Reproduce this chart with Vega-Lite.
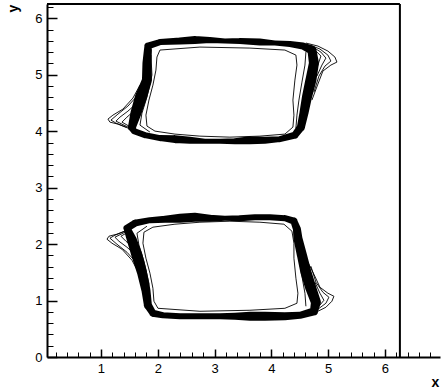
{
  "$schema": "https://vega.github.io/schema/vega-lite/v6.json",
  "width": 393,
  "height": 353,
  "autosize": "none",
  "padding": {"left": 47, "top": 4, "right": 3, "bottom": 34},
  "background": "white",
  "config": {
    "view": {"stroke": null},
    "axis": {
      "domainColor": "black", "domainWidth": 2, "tickColor": "black", "tickWidth": 1.5,
      "labelFont": "Liberation Sans", "labelFontSize": 13, "labelColor": "black",
      "grid": false, "titleFont": "Liberation Sans", "titleColor": "black"
    }
  },
  "datasets": {
    "bands": [
      {"g":"T","x":1.827,"y":5.509,"w":7},{"g":"T","x":2.039,"y":5.580,"w":6},{"g":"T","x":2.391,"y":5.598,"w":7},
      {"g":"T","x":2.655,"y":5.615,"w":8},{"g":"T","x":2.919,"y":5.615,"w":6},{"g":"T","x":3.183,"y":5.598,"w":5},
      {"g":"T","x":3.447,"y":5.598,"w":6},{"g":"T","x":3.799,"y":5.580,"w":7},{"g":"T","x":4.063,"y":5.562,"w":5},
      {"g":"T","x":4.327,"y":5.544,"w":6},{"g":"T","x":4.556,"y":5.509,"w":7},{"g":"T","x":4.715,"y":5.438,"w":9},
      {"g":"T","x":4.750,"y":5.207,"w":10},{"g":"T","x":4.697,"y":4.906,"w":11},{"g":"T","x":4.627,"y":4.605,"w":10},
      {"g":"T","x":4.574,"y":4.321,"w":9},{"g":"T","x":4.521,"y":4.073,"w":8},{"g":"T","x":4.415,"y":3.931,"w":7},
      {"g":"T","x":4.151,"y":3.860,"w":6},{"g":"T","x":3.887,"y":3.842,"w":7},{"g":"T","x":3.623,"y":3.842,"w":8},
      {"g":"T","x":3.359,"y":3.824,"w":6},{"g":"T","x":3.095,"y":3.824,"w":5},{"g":"T","x":2.831,"y":3.824,"w":5},
      {"g":"T","x":2.567,"y":3.842,"w":7},{"g":"T","x":2.303,"y":3.860,"w":8},{"g":"T","x":2.039,"y":3.878,"w":6},
      {"g":"T","x":1.775,"y":3.931,"w":6},{"g":"T","x":1.581,"y":4.002,"w":6},{"g":"T","x":1.546,"y":4.073,"w":8},
      {"g":"T","x":1.616,"y":4.321,"w":11},{"g":"T","x":1.704,"y":4.605,"w":12},{"g":"T","x":1.810,"y":4.906,"w":10},
      {"g":"T","x":1.810,"y":5.207,"w":9},{"g":"T","x":1.827,"y":5.438,"w":8},{"g":"T","x":1.827,"y":5.509,"w":7},
      {"g":"B","x":1.458,"y":2.282,"w":7},{"g":"B","x":1.599,"y":2.371,"w":7},{"g":"B","x":1.863,"y":2.424,"w":6},
      {"g":"B","x":2.127,"y":2.441,"w":7},{"g":"B","x":2.391,"y":2.459,"w":9},{"g":"B","x":2.655,"y":2.477,"w":9},
      {"g":"B","x":2.919,"y":2.459,"w":7},{"g":"B","x":3.183,"y":2.459,"w":5},{"g":"B","x":3.447,"y":2.459,"w":6},
      {"g":"B","x":3.711,"y":2.477,"w":6},{"g":"B","x":3.975,"y":2.477,"w":6},{"g":"B","x":4.239,"y":2.459,"w":6},
      {"g":"B","x":4.398,"y":2.406,"w":7},{"g":"B","x":4.451,"y":2.264,"w":8},{"g":"B","x":4.468,"y":2.105,"w":9},
      {"g":"B","x":4.539,"y":1.803,"w":10},{"g":"B","x":4.609,"y":1.502,"w":11},{"g":"B","x":4.697,"y":1.218,"w":11},
      {"g":"B","x":4.785,"y":0.970,"w":10},{"g":"B","x":4.750,"y":0.810,"w":8},{"g":"B","x":4.504,"y":0.739,"w":7},
      {"g":"B","x":4.239,"y":0.722,"w":8},{"g":"B","x":3.887,"y":0.722,"w":9},{"g":"B","x":3.623,"y":0.722,"w":9},
      {"g":"B","x":3.359,"y":0.722,"w":7},{"g":"B","x":3.095,"y":0.722,"w":6},{"g":"B","x":2.743,"y":0.722,"w":6},
      {"g":"B","x":2.391,"y":0.722,"w":6},{"g":"B","x":2.092,"y":0.739,"w":6},{"g":"B","x":1.915,"y":0.775,"w":7},
      {"g":"B","x":1.827,"y":0.917,"w":8},{"g":"B","x":1.792,"y":1.183,"w":9},{"g":"B","x":1.722,"y":1.502,"w":10},
      {"g":"B","x":1.634,"y":1.803,"w":11},{"g":"B","x":1.546,"y":2.069,"w":10},{"g":"B","x":1.458,"y":2.282,"w":7}
    ],
    "lines": [
      {"g":"TI","x":2.039,"y":5.438},{"g":"TI","x":2.743,"y":5.491},{"g":"TI","x":3.623,"y":5.473},{"g":"TI","x":4.239,"y":5.438},
      {"g":"TI","x":4.433,"y":5.349},{"g":"TI","x":4.451,"y":5.172},{"g":"TI","x":4.415,"y":4.906},{"g":"TI","x":4.380,"y":4.552},
      {"g":"TI","x":4.398,"y":4.285},{"g":"TI","x":4.380,"y":4.073},{"g":"TI","x":4.239,"y":3.949},{"g":"TI","x":3.799,"y":3.913},
      {"g":"TI","x":3.271,"y":3.895},{"g":"TI","x":2.743,"y":3.913},{"g":"TI","x":2.303,"y":3.949},{"g":"TI","x":1.951,"y":4.002},
      {"g":"TI","x":1.810,"y":4.091},{"g":"TI","x":1.792,"y":4.285},{"g":"TI","x":1.845,"y":4.552},{"g":"TI","x":1.915,"y":4.817},
      {"g":"TI","x":1.968,"y":5.083},{"g":"TI","x":1.986,"y":5.314},{"g":"TI","x":2.039,"y":5.438},
      {"g":"BI","x":2.004,"y":0.863},{"g":"BI","x":2.743,"y":0.810},{"g":"BI","x":3.623,"y":0.828},{"g":"BI","x":4.239,"y":0.863},
      {"g":"BI","x":4.451,"y":0.952},{"g":"BI","x":4.468,"y":1.130},{"g":"BI","x":4.433,"y":1.396},{"g":"BI","x":4.398,"y":1.750},
      {"g":"BI","x":4.398,"y":2.016},{"g":"BI","x":4.363,"y":2.229},{"g":"BI","x":4.222,"y":2.353},{"g":"BI","x":3.799,"y":2.388},
      {"g":"BI","x":3.271,"y":2.406},{"g":"BI","x":2.743,"y":2.388},{"g":"BI","x":2.303,"y":2.353},{"g":"BI","x":1.915,"y":2.300},
      {"g":"BI","x":1.757,"y":2.211},{"g":"BI","x":1.739,"y":2.016},{"g":"BI","x":1.792,"y":1.750},{"g":"BI","x":1.863,"y":1.484},
      {"g":"BI","x":1.915,"y":1.218},{"g":"BI","x":1.933,"y":0.988},{"g":"BI","x":2.004,"y":0.863},
      {"g":"TLH","x":1.880,"y":5.349},{"g":"TLH","x":1.898,"y":4.995},{"g":"TLH","x":1.810,"y":4.605},{"g":"TLH","x":1.722,"y":4.321},{"g":"TLH","x":1.687,"y":4.108},{"g":"TLH","x":1.863,"y":3.984},
      {"g":"TRH","x":4.609,"y":5.402},{"g":"TRH","x":4.592,"y":5.172},{"g":"TRH","x":4.539,"y":4.870},{"g":"TRH","x":4.486,"y":4.552},{"g":"TRH","x":4.451,"y":4.285},{"g":"TRH","x":4.433,"y":4.055},
      {"g":"BLH","x":1.827,"y":0.952},{"g":"BLH","x":1.845,"y":1.307},{"g":"BLH","x":1.757,"y":1.697},{"g":"BLH","x":1.669,"y":1.981},{"g":"BLH","x":1.634,"y":2.193},{"g":"BLH","x":1.810,"y":2.317},
      {"g":"BRH","x":4.609,"y":0.899},{"g":"BRH","x":4.592,"y":1.130},{"g":"BRH","x":4.539,"y":1.431},{"g":"BRH","x":4.486,"y":1.750},{"g":"BRH","x":4.451,"y":2.016},{"g":"BRH","x":4.433,"y":2.246},
      {"g":"TLA","x":1.687,"y":4.817},{"g":"TLA","x":1.563,"y":4.587},{"g":"TLA","x":1.387,"y":4.392},{"g":"TLA","x":1.211,"y":4.285},{"g":"TLA","x":1.123,"y":4.215},{"g":"TLA","x":1.158,"y":4.161},{"g":"TLA","x":1.299,"y":4.126},{"g":"TLA","x":1.475,"y":4.055},
      {"g":"TLB","x":1.651,"y":4.640},{"g":"TLB","x":1.475,"y":4.445},{"g":"TLB","x":1.299,"y":4.303},{"g":"TLB","x":1.176,"y":4.197},{"g":"TLB","x":1.264,"y":4.144},{"g":"TLB","x":1.440,"y":4.073},
      {"g":"TLC","x":1.634,"y":4.498},{"g":"TLC","x":1.475,"y":4.356},{"g":"TLC","x":1.335,"y":4.250},{"g":"TLC","x":1.264,"y":4.179},{"g":"TLC","x":1.405,"y":4.108},{"g":"TLC","x":1.511,"y":4.055},
      {"g":"TLD","x":1.599,"y":4.374},{"g":"TLD","x":1.458,"y":4.250},{"g":"TLD","x":1.370,"y":4.161},{"g":"TLD","x":1.493,"y":4.091},
      {"g":"TRA","x":4.609,"y":5.562},{"g":"TRA","x":4.820,"y":5.509},{"g":"TRA","x":4.996,"y":5.420},{"g":"TRA","x":5.120,"y":5.314},{"g":"TRA","x":5.155,"y":5.225},{"g":"TRA","x":5.049,"y":5.172},{"g":"TRA","x":4.908,"y":5.066},{"g":"TRA","x":4.820,"y":4.835},{"g":"TRA","x":4.715,"y":4.552},
      {"g":"TRB","x":4.680,"y":5.527},{"g":"TRB","x":4.856,"y":5.456},{"g":"TRB","x":4.996,"y":5.349},{"g":"TRB","x":5.049,"y":5.243},{"g":"TRB","x":4.944,"y":5.154},{"g":"TRB","x":4.838,"y":4.977},{"g":"TRB","x":4.750,"y":4.693},
      {"g":"TRC","x":4.732,"y":5.491},{"g":"TRC","x":4.873,"y":5.402},{"g":"TRC","x":4.961,"y":5.296},{"g":"TRC","x":4.891,"y":5.172},{"g":"TRC","x":4.803,"y":4.977},
      {"g":"TRD","x":4.768,"y":5.438},{"g":"TRD","x":4.873,"y":5.332},{"g":"TRD","x":4.820,"y":5.172},{"g":"TRD","x":4.768,"y":5.048},
      {"g":"BLA","x":1.669,"y":1.484},{"g":"BLA","x":1.546,"y":1.715},{"g":"BLA","x":1.370,"y":1.910},{"g":"BLA","x":1.194,"y":2.016},{"g":"BLA","x":1.106,"y":2.087},{"g":"BLA","x":1.141,"y":2.140},{"g":"BLA","x":1.282,"y":2.176},{"g":"BLA","x":1.458,"y":2.246},
      {"g":"BLB","x":1.634,"y":1.661},{"g":"BLB","x":1.458,"y":1.856},{"g":"BLB","x":1.282,"y":1.998},{"g":"BLB","x":1.158,"y":2.105},{"g":"BLB","x":1.246,"y":2.158},{"g":"BLB","x":1.423,"y":2.229},
      {"g":"BLC","x":1.616,"y":1.803},{"g":"BLC","x":1.458,"y":1.945},{"g":"BLC","x":1.317,"y":2.051},{"g":"BLC","x":1.246,"y":2.122},{"g":"BLC","x":1.387,"y":2.193},{"g":"BLC","x":1.493,"y":2.246},
      {"g":"BLD","x":1.581,"y":1.927},{"g":"BLD","x":1.440,"y":2.051},{"g":"BLD","x":1.352,"y":2.140},{"g":"BLD","x":1.475,"y":2.211},
      {"g":"BRA","x":4.609,"y":0.739},{"g":"BRA","x":4.785,"y":0.793},{"g":"BRA","x":4.961,"y":0.881},{"g":"BRA","x":5.067,"y":0.988},{"g":"BRA","x":5.102,"y":1.076},{"g":"BRA","x":4.996,"y":1.130},{"g":"BRA","x":4.856,"y":1.236},{"g":"BRA","x":4.750,"y":1.466},{"g":"BRA","x":4.609,"y":1.750},
      {"g":"BRB","x":4.662,"y":0.775},{"g":"BRB","x":4.820,"y":0.846},{"g":"BRB","x":4.961,"y":0.952},{"g":"BRB","x":5.014,"y":1.059},{"g":"BRB","x":4.908,"y":1.147},{"g":"BRB","x":4.785,"y":1.325},{"g":"BRB","x":4.697,"y":1.608},
      {"g":"BRC","x":4.715,"y":0.810},{"g":"BRC","x":4.838,"y":0.899},{"g":"BRC","x":4.926,"y":1.005},{"g":"BRC","x":4.856,"y":1.130},{"g":"BRC","x":4.768,"y":1.325},
      {"g":"BRD","x":4.750,"y":0.863},{"g":"BRD","x":4.838,"y":0.970},{"g":"BRD","x":4.785,"y":1.130},{"g":"BRD","x":4.732,"y":1.254}
    ]
  },
  "layer": [
    {
      "data": {"name": "bands"},
      "mark": {"type": "trail", "color": "black"},
      "encoding": {
        "x": {"field": "x", "type": "quantitative",
              "scale": {"domain": [0.05, 6.97], "nice": false, "zero": false},
              "axis": {"orient": "bottom", "values": [1, 2, 3, 4, 5, 6], "tickSize": -8, "labelPadding": 13,
                       "title": "x", "titleX": 388, "titleY": 25, "titleAlign": "center", "titleBaseline": "middle",
                       "titleFontSize": 14, "titleFontWeight": "bold"}},
        "y": {"field": "y", "type": "quantitative",
              "scale": {"domain": [0, 6.254], "nice": false, "zero": false},
              "axis": {"orient": "left", "values": [0, 1, 2, 3, 4, 5, 6], "tickSize": -10, "labelPadding": 15,
                       "title": "y", "titleX": -34, "titleY": 4, "titleAlign": "center", "titleBaseline": "middle",
                       "titleFontSize": 14, "titleFontWeight": "bold"}},
        "size": {"field": "w", "type": "quantitative", "scale": null},
        "detail": {"field": "g"},
        "order": {"value": null}
      }
    },
    {
      "data": {"name": "lines"},
      "mark": {"type": "line", "color": "black", "strokeWidth": 0.9},
      "encoding": {
        "x": {"field": "x", "type": "quantitative",
              "axis": {"orient": "bottom", "title": null, "labels": false, "domain": false, "tickSize": -5, "tickWidth": 1,
                       "values": [0.2,0.4,0.6,0.8,1.2,1.4,1.6,1.8,2.2,2.4,2.6,2.8,3.2,3.4,3.6,3.8,4.2,4.4,4.6,4.8,5.2,5.4,5.6,5.8,6.2,6.4,6.6,6.8]}},
        "y": {"field": "y", "type": "quantitative",
              "axis": {"orient": "left", "title": null, "labels": false, "domain": false, "tickSize": -6, "tickWidth": 1,
                       "values": [0.2,0.4,0.6,0.8,1.2,1.4,1.6,1.8,2.2,2.4,2.6,2.8,3.2,3.4,3.6,3.8,4.2,4.4,4.6,4.8,5.2,5.4,5.6,5.8,6.2]}},
        "detail": {"field": "g"},
        "order": {"value": null}
      }
    },
    {
      "data": {"values": [{}]},
      "mark": {"type": "rule", "color": "black", "strokeWidth": 2},
      "encoding": {
        "x": {"datum": 0.05, "type": "quantitative", "axis": null},
        "x2": {"datum": 6.264},
        "y": {"datum": 6.254, "type": "quantitative", "axis": null}
      }
    },
    {
      "data": {"values": [{}]},
      "mark": {"type": "rule", "color": "black", "strokeWidth": 2},
      "encoding": {
        "x": {"datum": 6.264, "type": "quantitative", "axis": null},
        "y": {"datum": 0, "type": "quantitative", "axis": null},
        "y2": {"datum": 6.254}
      }
    }
  ],
  "resolve": {"axis": {"x": "independent", "y": "independent"}}
}
